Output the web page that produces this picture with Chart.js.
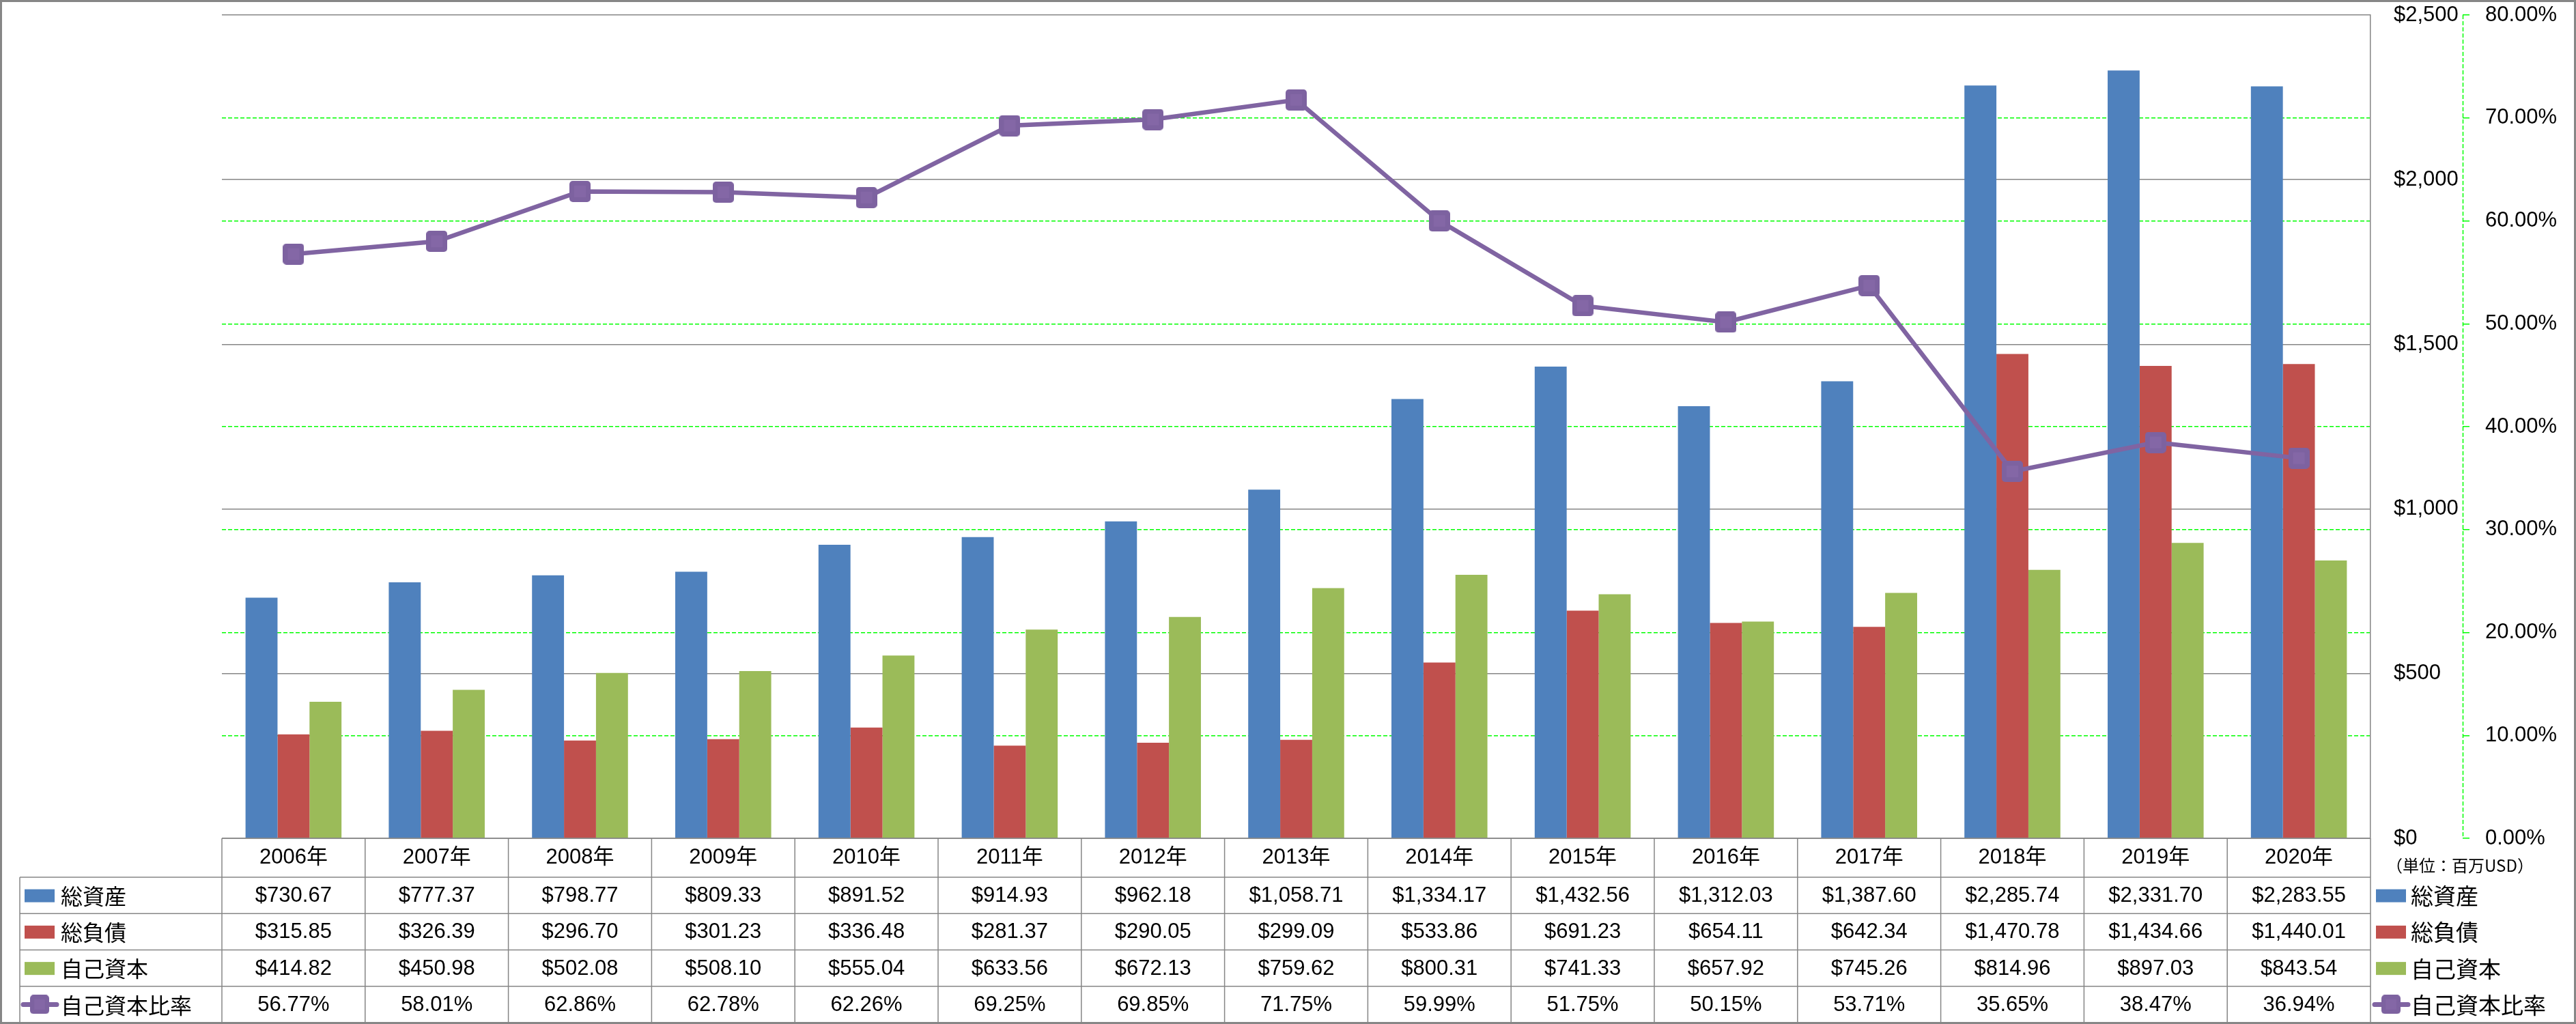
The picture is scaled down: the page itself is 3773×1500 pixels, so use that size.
<!DOCTYPE html>
<html lang="ja">
<head>
<meta charset="utf-8">
<title>総資産・総負債・自己資本</title>
<script src="https://cdn.jsdelivr.net/npm/chart.js@4.4.1/dist/chart.umd.min.js"></script>
<style>
  html, body { margin: 0; padding: 0; background: #fff; }
  #wrap { width: 3773px; height: 1500px; }
</style>
</head>
<body>
<div id="wrap"><canvas id="finChart" width="3773" height="1500"></canvas></div>
<script>
// data (単位: 百万USD)
const years = ["2006年", "2007年", "2008年", "2009年", "2010年", "2011年", "2012年", "2013年",
               "2014年", "2015年", "2016年", "2017年", "2018年", "2019年", "2020年"];
const totalAssets = [730.67, 777.37, 798.77, 809.33, 891.52, 914.93, 962.18, 1058.71,
                     1334.17, 1432.56, 1312.03, 1387.60, 2285.74, 2331.70, 2283.55];
const totalLiabilities = [315.85, 326.39, 296.70, 301.23, 336.48, 281.37, 290.05, 299.09,
                          533.86, 691.23, 654.11, 642.34, 1470.78, 1434.66, 1440.01];
const equity = [414.82, 450.98, 502.08, 508.10, 555.04, 633.56, 672.13, 759.62,
                800.31, 741.33, 657.92, 745.26, 814.96, 897.03, 843.54];
const equityRatio = [56.77, 58.01, 62.86, 62.78, 62.26, 69.25, 69.85, 71.75,
                     59.99, 51.75, 50.15, 53.71, 35.65, 38.47, 36.94];
const seriesNames = ["総資産", "総負債", "自己資本", "自己資本比率"];
const unitLabel = "（単位：百万USD）";

const BLUE = "#4F81BD", RED = "#C0504D", GREEN = "#9BBB59", PURPLE = "#8064A2";
const GRAY = "#868686";
const LATIN = '"Liberation Sans", "Noto Sans CJK JP", sans-serif';
const CJK = '"Noto Sans CJK JP", "Liberation Sans", sans-serif';

Chart.defaults.font.family = LATIN;
Chart.defaults.color = "#000";

function money(v) {
    return "$" + v.toLocaleString("en-US", { minimumFractionDigits: 2, maximumFractionDigits: 2 });
}
function pct(v) {
    return v.toFixed(2) + "%";
}

// square marker with slightly rounded corners
function makeMarker(size) {
    const c = document.createElement("canvas");
    c.width = size; c.height = size;
    const g = c.getContext("2d");
    g.fillStyle = "#7d62a0";
    g.beginPath();
    if (g.roundRect) g.roundRect(0, 0, size, size, 5); else g.rect(0, 0, size, size);
    g.fill();
    g.fillStyle = "#8467a6";
    g.fillRect(size * 0.22, size * 0.22, size * 0.56, size * 0.56);
    return c;
}
const marker = makeMarker(31);
const legendMarker = makeMarker(28);

const rows = [
    { name: seriesNames[0], color: BLUE, values: totalAssets, fmt: money, kind: "bar" },
    { name: seriesNames[1], color: RED, values: totalLiabilities, fmt: money, kind: "bar" },
    { name: seriesNames[2], color: GREEN, values: equity, fmt: money, kind: "bar" },
    { name: seriesNames[3], color: PURPLE, values: equityRatio, fmt: pct, kind: "line" }
];

function drawKey(ctx, row, x, cy) {
    if (row.kind === "bar") {
        ctx.fillStyle = row.color;
        ctx.fillRect(x, cy - 9, 44, 19);
    } else {
        ctx.strokeStyle = row.color;
        ctx.lineWidth = 7;
        ctx.lineCap = "round";
        ctx.beginPath();
        ctx.moveTo(x - 2, cy);
        ctx.lineTo(x + 47, cy);
        ctx.stroke();
        ctx.drawImage(legendMarker, x + 22 - 14, cy - 14);
    }
}

// data table under the plot + legend on the right + outer frame
const tablePlugin = {
    id: "dataTable",
    afterDraw(chart) {
        const ctx = chart.ctx;
        const area = chart.chartArea;
        const xs = chart.scales.x;
        const n = years.length;
        const colW = (area.right - area.left) / n;
        const headTop = area.bottom;
        const headBottom = headTop + 57;
        const tableBottom = chart.height - 2;
        const rowH = (tableBottom - headBottom) / rows.length;
        const tableLeft = 29;

        ctx.save();
        ctx.strokeStyle = GRAY;
        ctx.lineWidth = 1.5;
        ctx.beginPath();
        ctx.moveTo(area.left, headTop);
        ctx.lineTo(area.right, headTop);
        for (let r = 0; r <= rows.length; r++) {
            const y = headBottom + r * rowH;
            ctx.moveTo(tableLeft, y);
            ctx.lineTo(area.right, y);
        }
        for (let i = 0; i <= n; i++) {
            const bx = i < n ? xs.getPixelForValue(i) - colW / 2 : xs.getPixelForValue(n - 1) + colW / 2;
            ctx.moveTo(bx, headTop);
            ctx.lineTo(bx, tableBottom);
        }
        ctx.moveTo(tableLeft, headBottom);
        ctx.lineTo(tableLeft, tableBottom);
        ctx.stroke();

        // dashed axis line of the % scale
        const y1 = chart.scales.y1;
        ctx.strokeStyle = "#00ff00";
        ctx.setLineDash([6, 3]);
        ctx.beginPath();
        ctx.moveTo(y1.left + 0.5, area.top);
        ctx.lineTo(y1.left + 0.5, area.bottom);
        ctx.stroke();
        ctx.setLineDash([]);

        ctx.fillStyle = "#000";
        ctx.textAlign = "center";
        ctx.textBaseline = "middle";
        ctx.font = "31px " + LATIN;
        for (let i = 0; i < n; i++) {
            const cx = xs.getPixelForValue(i);
            ctx.fillText(years[i], cx, (headTop + headBottom) / 2);
            rows.forEach((row, r) => {
                ctx.fillText(row.fmt(row.values[i]), cx, headBottom + r * rowH + rowH / 2 + 1);
            });
        }

        rows.forEach((row, r) => {
            const cy = headBottom + r * rowH + rowH / 2;
            drawKey(ctx, row, 36, cy);
            drawKey(ctx, row, 3480, cy);
            ctx.fillStyle = "#000";
            ctx.textAlign = "left";
            ctx.font = "32px " + CJK;
            ctx.fillText(row.name, 89, cy + 1);
            ctx.font = "33px " + CJK;
            ctx.fillText(row.name, 3531, cy + 1);
        });

        ctx.font = "24px " + CJK;
        ctx.textAlign = "center";
        ctx.fillText(unitLabel, 3603, 1268);

        ctx.strokeStyle = GRAY;
        ctx.lineWidth = 3;
        ctx.strokeRect(1.5, 1.5, chart.width - 3, chart.height - 3);
        ctx.restore();
    }
};

const ctx = document.getElementById("finChart").getContext("2d");

new Chart(ctx, {
    data: {
        labels: years,
        datasets: [
            { type: "bar", label: seriesNames[0], data: totalAssets, backgroundColor: BLUE,
              yAxisID: "y", order: 1, categoryPercentage: 0.67, barPercentage: 1 },
            { type: "bar", label: seriesNames[1], data: totalLiabilities, backgroundColor: RED,
              yAxisID: "y", order: 1, categoryPercentage: 0.67, barPercentage: 1 },
            { type: "bar", label: seriesNames[2], data: equity, backgroundColor: GREEN,
              yAxisID: "y", order: 1, categoryPercentage: 0.67, barPercentage: 1 },
            { type: "line", label: seriesNames[3], data: equityRatio, borderColor: PURPLE,
              backgroundColor: PURPLE, borderWidth: 6.5, tension: 0, pointStyle: marker,
              yAxisID: "y1", order: 0 }
        ]
    },
    options: {
        responsive: false,
        animation: false,
        layout: { padding: { left: 325, top: 22, right: 0, bottom: 0 } },
        plugins: {
            legend: { display: false },
            tooltip: { enabled: false }
        },
        scales: {
            x: {
                ticks: { display: false },
                grid: { display: false },
                border: { display: false },
                afterFit(s) { s.height = 272; }
            },
            y: {
                position: "right",
                weight: 0,
                min: 0,
                max: 2500,
                ticks: {
                    stepSize: 500,
                    padding: 34,
                    font: { size: 31 },
                    callback: v => "$" + v.toLocaleString("en-US")
                },
                grid: { color: GRAY, lineWidth: 1.5, drawTicks: false },
                border: { display: true, color: GRAY, width: 1.5 },
                afterFit(s) { s.width = 135; s.paddingTop = 0; s.paddingBottom = 0; }
            },
            y1: {
                position: "right",
                weight: 1,
                min: 0,
                max: 80,
                ticks: {
                    stepSize: 10,
                    padding: 23,
                    font: { size: 31 },
                    callback: v => v.toFixed(2) + "%"
                },
                grid: {
                    color: c => (c.tick && (c.tick.value === 80 || c.tick.value === 0)) ? "rgba(0,0,0,0)" : "#00ff00",
                    lineWidth: 1.5,
                    tickLength: 10,
                    tickColor: "#00ff00"
                },
                border: { display: false, dash: [6, 3] },
                afterFit(s) { s.width = 166; s.paddingTop = 0; s.paddingBottom = 0; }
            }
        }
    },
    plugins: [tablePlugin]
});
</script>
</body>
</html>
